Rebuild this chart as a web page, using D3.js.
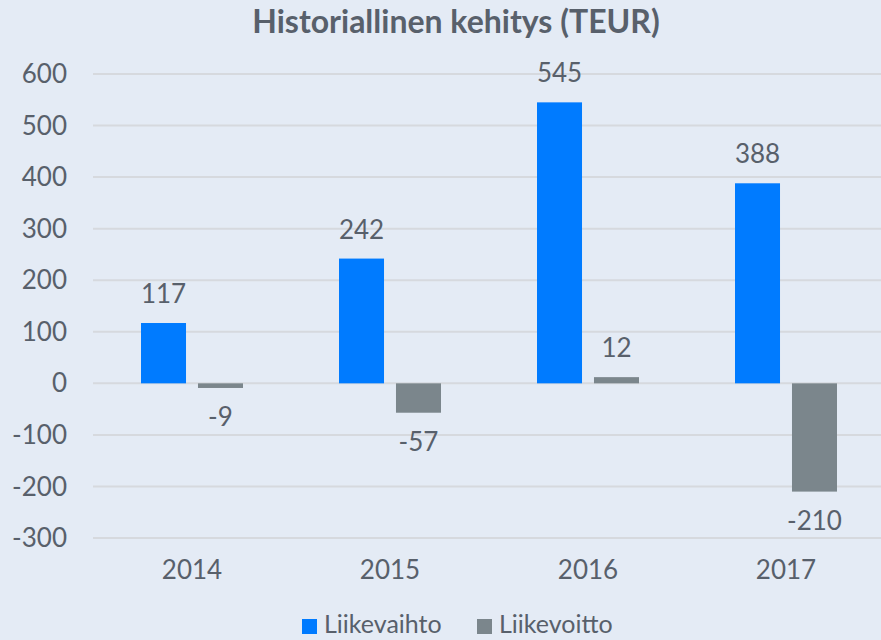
<!DOCTYPE html>
<html>
<head>
<meta charset="utf-8">
<script src="https://cdn.jsdelivr.net/npm/d3@7"></script>
<style>
  html, body { margin: 0; padding: 0; background: #e4ebf5; }
  svg { display: block; font-family: Lato, "Open Sans", sans-serif; }
</style>
</head>
<body>
<svg id="chart" width="881" height="640"></svg>
<script>
// chart values
var years = ["2014", "2015", "2016", "2017"];
var seriesNames = ["Liikevaihto", "Liikevoitto"];
var liikevaihto = [117, 242, 545, 388];
var liikevoitto = [-9, -57, 12, -210];
var yTicks = [600, 500, 400, 300, 200, 100, 0, -100, -200, -300];

var colors = { "Liikevaihto": "#007bff", "Liikevoitto": "#7b868c" };
var textColor = "#58606b";

var width = 881, height = 640;
var svg = d3.select("#chart");

// rows built from the arrays above
var rows = years.map(function(y, i) {
  return { year: y, values: [
    { key: "Liikevaihto", val: liikevaihto[i] },
    { key: "Liikevoitto", val: liikevoitto[i] }
  ]};
});

var y = d3.scaleLinear().domain([-300, 600]).range([538, 74]);

var x0 = d3.scaleBand().domain(years).range([93, 885]).padding(0);
var x1 = d3.scaleBand().domain(seriesNames)
  .range([48, 150])
  .paddingInner(0.21)
  .paddingOuter(0);

// title
svg.append("text")
  .attr("x", 456)
  .attr("y", 33)
  .attr("text-anchor", "middle")
  .attr("font-size", 32)
  .attr("font-weight", "bold")
  .attr("fill", textColor)
  .text("Historiallinen kehitys (TEUR)");

// gridlines
svg.append("g")
  .selectAll("line")
  .data(yTicks)
  .enter().append("line")
  .attr("x1", 93)
  .attr("x2", width)
  .attr("y1", function(d) { return y(d); })
  .attr("y2", function(d) { return y(d); })
  .attr("stroke", "#d6d9de")
  .attr("stroke-width", 2);

// y axis labels
svg.append("g")
  .selectAll("text")
  .data(yTicks)
  .enter().append("text")
  .attr("x", 67)
  .attr("y", function(d) { return y(d); })
  .attr("dy", "0.35em")
  .attr("text-anchor", "end")
  .attr("font-size", 26)
  .attr("fill", textColor)
  .text(function(d) { return d; });

// x labels
svg.append("g")
  .selectAll("text")
  .data(years)
  .enter().append("text")
  .attr("x", function(d) { return x0(d) + x0.bandwidth() / 2; })
  .attr("y", 579)
  .attr("text-anchor", "middle")
  .attr("font-size", 26)
  .attr("fill", textColor)
  .text(function(d) { return d; });

// bars
var groups = svg.append("g")
  .selectAll("g")
  .data(rows)
  .enter().append("g")
  .attr("transform", function(d) { return "translate(" + x0(d.year) + ",0)"; });

groups.selectAll("rect")
  .data(function(d) { return d.values; })
  .enter().append("rect")
  .attr("x", function(d) { return x1(d.key); })
  .attr("y", function(d) { return y(Math.max(0, d.val)); })
  .attr("width", x1.bandwidth())
  .attr("height", function(d) { return Math.abs(y(d.val) - y(0)); })
  .attr("fill", function(d) { return colors[d.key]; });

// value labels
groups.selectAll("text")
  .data(function(d) { return d.values; })
  .enter().append("text")
  .attr("x", function(d) { return x1(d.key) + x1.bandwidth() / 2; })
  .attr("y", function(d) {
    return d.val >= 0 ? y(d.val) - 20 : y(d.val) + 38;
  })
  .attr("text-anchor", "middle")
  .attr("font-size", 26)
  .attr("fill", textColor)
  .text(function(d) { return d.val; });

// legend
var legend = svg.append("g")
  .selectAll("g")
  .data(seriesNames)
  .enter().append("g")
  .attr("transform", function(d, i) { return "translate(" + [302, 477][i] + ",0)"; });

legend.append("rect")
  .attr("x", 0)
  .attr("y", 619)
  .attr("width", 15)
  .attr("height", 15)
  .attr("fill", function(d) { return colors[d]; });

legend.append("text")
  .attr("x", 22)
  .attr("y", 633)
  .attr("font-size", 25)
  .attr("fill", textColor)
  .text(function(d) { return d; });
</script>
</body>
</html>
